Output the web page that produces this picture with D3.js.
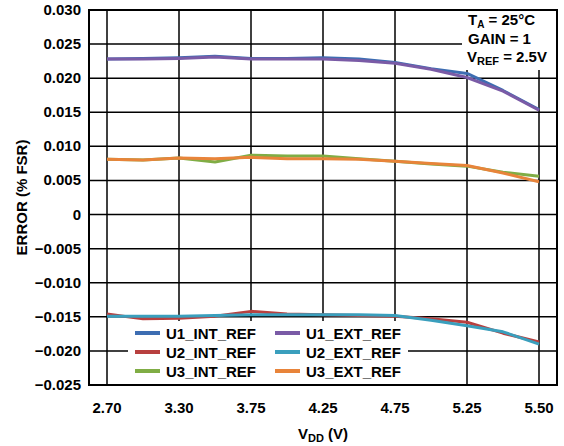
<!DOCTYPE html>
<html>
<head>
<meta charset="utf-8">
<script src="https://cdn.jsdelivr.net/npm/d3@7/dist/d3.min.js"></script>
<style>
  body { margin: 0; background: #fff; }
  text { font-family: Arial, "Liberation Sans", sans-serif; font-weight: bold; fill: #000; }
</style>
</head>
<body>
<script>
// supply voltage categories (only every other one is labelled)
var vdd = ["2.70", "3.00", "3.30", "3.50", "3.75", "4.00", "4.25", "4.50", "4.75", "5.00", "5.25", "5.40", "5.50"];
var xLabels = ["2.70", "3.30", "3.75", "4.25", "4.75", "5.25", "5.50"];
var yTicks = [0.030, 0.025, 0.020, 0.015, 0.010, 0.005, 0, -0.005, -0.010, -0.015, -0.020, -0.025];

// error values (% FSR)
var u1Int = [0.0228, 0.0229, 0.0230, 0.0232, 0.0229, 0.0229, 0.0230, 0.0228, 0.0223, 0.0214, 0.0207, 0.0182, 0.0154];
var u1Ext = [0.0228, 0.0228, 0.0229, 0.0231, 0.0228, 0.0228, 0.0228, 0.0226, 0.0222, 0.0213, 0.0201, 0.0181, 0.0153];
var u2Int = [-0.0146, -0.0153, -0.0152, -0.0149, -0.0142, -0.0146, -0.0147, -0.0148, -0.0149, -0.0153, -0.0158, -0.0174, -0.0187];
var u2Ext = [-0.0149, -0.0149, -0.0149, -0.0148, -0.0147, -0.0147, -0.0147, -0.0147, -0.0148, -0.0155, -0.0163, -0.0172, -0.0190];
var u3Int = [0.0081, 0.0080, 0.0083, 0.0077, 0.0087, 0.0086, 0.0086, 0.0082, 0.0078, 0.0074, 0.0071, 0.0062, 0.0056];
var u3Ext = [0.0081, 0.0080, 0.0083, 0.0082, 0.0084, 0.0082, 0.0082, 0.0081, 0.0078, 0.0075, 0.0072, 0.0061, 0.0048];

var seriesNames = ["U1_INT_REF", "U1_EXT_REF", "U2_INT_REF", "U2_EXT_REF", "U3_INT_REF", "U3_EXT_REF"];
var seriesColors = ["#3d6db2", "#7a5ba6", "#b8403f", "#3a9fbd", "#80ad45", "#e8843a"];

var w = 564, h = 446;
var pLeft = 89, pRight = 557, pTop = 10, pBottom = 385;

var svg = d3.select("body").append("svg")
    .attr("width", w)
    .attr("height", h);

var x = d3.scaleBand()
    .domain(vdd)
    .range([pLeft, pRight]);

var y = d3.scaleLinear()
    .domain([-0.025, 0.030])
    .range([pBottom, pTop]);

function cx(v) { return x(v) + x.bandwidth() / 2; }

// grid
svg.append("g").selectAll("line")
    .data(yTicks)
    .enter().append("line")
    .attr("x1", pLeft).attr("x2", pRight)
    .attr("y1", function(d){ return y(d); })
    .attr("y2", function(d){ return y(d); })
    .style("stroke", "#000").style("stroke-width", 1.5);

svg.append("g").selectAll("line")
    .data(xLabels)
    .enter().append("line")
    .attr("x1", function(d){ return cx(d); })
    .attr("x2", function(d){ return cx(d); })
    .attr("y1", pTop).attr("y2", pBottom)
    .style("stroke", "#000").style("stroke-width", 1.5);

// white boxes behind annotation and legend
svg.append("rect").attr("x", 462).attr("y", pTop + 1).attr("width", pRight - 463).attr("height", 59).style("fill", "#fff");
svg.append("rect").attr("x", 128).attr("y", 321).attr("width", 280).attr("height", pBottom - 322).style("fill", "#fff");

// lines
var series = [u1Int, u1Ext, u2Int, u2Ext, u3Int, u3Ext];
var line = d3.line()
    .x(function(d, i){ return cx(vdd[i]); })
    .y(function(d){ return y(d); });

svg.append("g").selectAll("path")
    .data(series)
    .enter().append("path")
    .attr("d", line)
    .style("fill", "none")
    .style("stroke", function(d, i){ return seriesColors[i]; })
    .style("stroke-width", 3)
    .style("stroke-linejoin", "round");

// border
svg.append("rect")
    .attr("x", pLeft).attr("y", pTop)
    .attr("width", pRight - pLeft).attr("height", pBottom - pTop)
    .style("fill", "none").style("stroke", "#000").style("stroke-width", 2);

// y tick labels
var fmtY = function(d){
    if (d === 0) return "0";
    return (d < 0 ? "\u2212" : "") + Math.abs(d).toFixed(3);
};
svg.append("g").selectAll("text")
    .data(yTicks)
    .enter().append("text")
    .attr("x", 81)
    .attr("y", function(d){ return y(d) + 5; })
    .attr("text-anchor", "end")
    .style("font-size", "15px")
    .text(fmtY);

// x tick labels
svg.append("g").selectAll("text")
    .data(xLabels)
    .enter().append("text")
    .attr("x", function(d){ return cx(d); })
    .attr("y", 413)
    .attr("text-anchor", "middle")
    .style("font-size", "15px")
    .text(function(d){ return d; });

// axis titles
var xt = svg.append("text")
    .attr("x", 323).attr("y", 439)
    .attr("text-anchor", "middle")
    .style("font-size", "15px");
xt.append("tspan").text("V");
xt.append("tspan").attr("dy", 3).style("font-size", "11px").text("DD");
xt.append("tspan").attr("dy", -3).text(" (V)");

svg.append("text")
    .attr("transform", "translate(27," + ((pTop + pBottom) / 2) + ") rotate(-90)")
    .attr("text-anchor", "middle")
    .style("font-size", "15px")
    .text("ERROR (% FSR)");

// conditions note
var note = svg.append("g").attr("transform", "translate(468,0)");
var t1 = note.append("text").attr("y", 25).style("font-size", "15px");
t1.append("tspan").text("T");
t1.append("tspan").attr("dy", 3).style("font-size", "10px").text("A");
t1.append("tspan").attr("dy", -3).text(" = 25°C");
note.append("text").attr("y", 44).style("font-size", "15px").text("GAIN = 1");
var t3 = note.append("text").attr("x", -1).attr("y", 62).style("font-size", "15px");
t3.append("tspan").text("V");
t3.append("tspan").attr("dy", 3).style("font-size", "11px").text("REF");
t3.append("tspan").attr("dy", -3).text(" = 2.5V");

// legend
var legend = svg.append("g").selectAll("g")
    .data(seriesNames)
    .enter().append("g")
    .attr("transform", function(d, i){
        return "translate(" + (i % 2 === 0 ? 135 : 275) + "," + (333 + Math.floor(i / 2) * 19) + ")";
    });
legend.append("line")
    .attr("x1", 0).attr("x2", 25)
    .style("stroke", function(d, i){ return seriesColors[i]; })
    .style("stroke-width", 4);
legend.append("text")
    .attr("x", 31).attr("y", 5.5)
    .style("font-size", "15px")
    .text(function(d){ return d; });
</script>
</body>
</html>
